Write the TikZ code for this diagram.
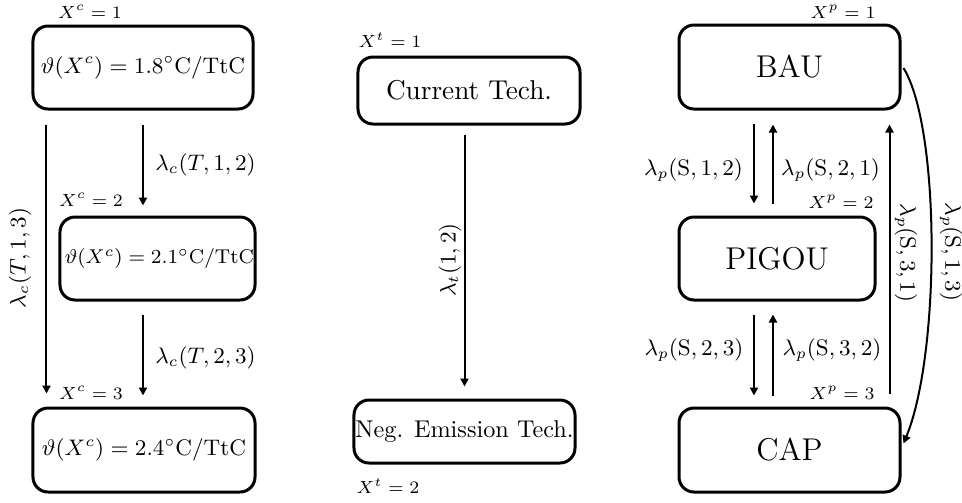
\documentclass[tikz,border=0pt]{standalone}
\usetikzlibrary{arrows.meta,calc}
\begin{document}
\begin{tikzpicture}[x=0.4pt,y=-0.4pt,
  box/.style={draw, line width=1.2pt, rounded corners=6pt, inner sep=0pt, align=center},
  arr/.style={-{Triangle[length=3.2pt,width=3.2pt]}, line width=0.8pt},
  tag/.style={inner sep=0pt, font=\fontsize{7.1}{9}\selectfont},
  rate/.style={inner sep=0pt, font=\fontsize{9.1}{11}\selectfont}]
\useasboundingbox (0,0) rectangle (962,502);

% climate states
\node[box, minimum width=88pt, minimum height=33.2pt, font=\fontsize{9}{11}\selectfont]
  (c1) at (143,67.5) {$\vartheta(X^c)=1.8^{\circ}\mathrm{C}/\mathrm{TtC}$};
\node[box, minimum width=78pt, minimum height=33.2pt, font=\fontsize{8}{10}\selectfont]
  (c2) at (157.5,258.5) {\hspace*{1.5pt}$\vartheta(X^c)=2.1^{\circ}\mathrm{C}/\mathrm{TtC}$};
\node[box, minimum width=88.8pt, minimum height=33.6pt, font=\fontsize{9.1}{11}\selectfont]
  (c3) at (144,450) {$\vartheta(X^c)=2.4^{\circ}\mathrm{C}/\mathrm{TtC}$};

\node[tag] (xc1) at (90,12) {$X^c=1$};
\node[tag] (xc2) at (91,200) {$X^c=2$};
\node[tag] (xc3) at (91,393) {$X^c=3$};

\coordinate (lx) at ($(c1.south west)+(15,0)$);
\draw[arr, shorten <=5.6pt, shorten >=4pt] (c1.south) -- (c1.south |- c2.north);
\draw[arr, shorten <=5.2pt, shorten >=4.4pt] (c2.south -| c1.south) -- (c1.south |- c3.north);
\draw[arr, shorten <=5.6pt, shorten >=5.2pt] (lx) -- (lx |- c3.north);

\node[rate, anchor=west] (r12) at (155,165) {$\lambda_c(T,1,2)$};
\node[rate, anchor=west] (r23) at (155,358) {$\lambda_c(T,2,3)$};
\node[rate, rotate=90] (r13) at (20,258) {$\lambda_c(T,1,3)$};

% technology states
\node[box, minimum width=88.8pt, minimum height=26.8pt, font=\fontsize{10.9}{12}\selectfont]
  (t1) at (469,90.5) {Current Tech.};
\node[box, minimum width=88.4pt, minimum height=25.2pt, font=\fontsize{9.7}{11}\selectfont]
  (t2) at (464.5,431.5) {Neg. Emission Tech.};
\node[tag] (xt1) at (390,40) {$X^t=1$};
\node[tag] (xt2) at (388,486) {$X^t=2$};

\draw[arr, shorten <=3.6pt, shorten >=4.8pt] (t2.north |- t1.south) -- (t2.north);
\node[rate, rotate=90] (rt) at (450,260) {$\lambda_t(1,2)$};

% policy states
\node[box, minimum width=88.4pt, minimum height=33.6pt, font=\fontsize{12.6}{14}\selectfont]
  (p1) at (789.5,67) {BAU};
\node[box, minimum width=78.4pt, minimum height=33.2pt, font=\fontsize{12.6}{14}\selectfont]
  (p2) at (777,258.5) {PIGOU};
\node[box, minimum width=88.4pt, minimum height=33.6pt, font=\fontsize{12.6}{14}\selectfont]
  (p3) at (789.5,450) {CAP};

\node[tag] (xp1) at (843,12) {$X^p=1$};
\node[tag] (xp2) at (841,202) {$X^p=2$};
\node[tag] (xp3) at (842,393) {$X^p=3$};

\coordinate (d1) at ($(p1.south)+(-35.5,0)$);
\coordinate (u1) at ($(p1.south)+(-16.5,0)$);
\coordinate (v1) at ($(p1.south east)+(-12,0)$);

\draw[arr, shorten <=5.2pt, shorten >=4.8pt] (d1) -- (d1 |- p2.north);
\draw[arr, shorten <=4.8pt, shorten >=5.6pt] (u1 |- p2.north) -- (u1);
\draw[arr, shorten <=5.2pt, shorten >=4.4pt] (d1 |- p2.south) -- (d1 |- p3.north);
\draw[arr, shorten <=4.4pt, shorten >=5.2pt] (u1 |- p3.north) -- (u1 |- p2.south);
\draw[arr, shorten <=5.2pt, shorten >=5.6pt] (v1 |- p3.north) -- (v1);

\coordinate (bend) at ($(p3.north east)+(2,37)$);
\draw[arr] ($(p1.east)+(2,1)$) .. controls +(37,60) and +(37,-90) .. (bend);

\node[rate] (q12) at (693.5,170) {$\lambda_p(\mathrm{S},1,2)$};
\node[rate] (q21) at (830.5,170) {$\lambda_p(\mathrm{S},2,1)$};
\node[rate] (q23) at (694,350) {$\lambda_p(\mathrm{S},2,3)$};
\node[rate] (q32) at (832,350) {$\lambda_p(\mathrm{S},3,2)$};
\node[rate, rotate=-90] (q31) at (906,253) {$\lambda_p(\mathrm{S},3,1)$};
\node[rate, rotate=-90] (q13) at (951,252) {$\lambda_p(\mathrm{S},1,3)$};
\end{tikzpicture}
\end{document}
